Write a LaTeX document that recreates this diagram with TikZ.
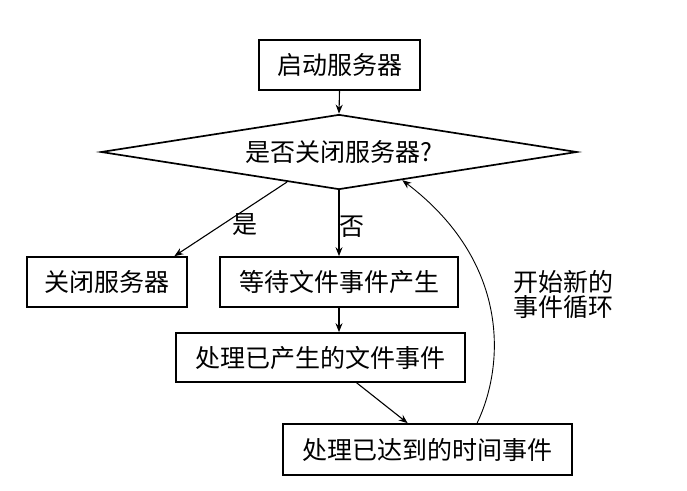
\documentclass[tikz,border=0pt]{standalone}
\usepackage{fontspec}
\newfontfamily\cjk{Noto Sans CJK SC}
\usetikzlibrary{shapes.geometric,arrows.meta}

\tikzset{
  stepbox/.style={draw, line width=1.7pt, rectangle, inner sep=0pt, minimum height=50pt},
  decision/.style={draw, line width=1.7pt, diamond, inner sep=0pt, shape aspect=6.35,
    minimum width=476pt, minimum height=75pt},
  flow/.style={-{Stealth[length=9pt,width=7pt]}, line width=1.1pt},
  lbl/.style={inner sep=0pt}
}

\begin{document}
\begin{tikzpicture}[x=1pt,y=-1pt,font=\cjk\fontsize{25}{25}\selectfont]
        % Fix the picture size
        \useasboundingbox (0,0) rectangle (687,490);

        % Draw the start box and the decision
        \node[stepbox, minimum width=161pt] (start) at (339.5,65) {启动服务器};
        \node[decision] (ask) at (339,152) {是否关闭服务器?};

        % Draw the boxes of the event loop
        \node[stepbox, minimum width=160pt] (close) at (107,282) {关闭服务器};
        \node[stepbox, minimum width=238pt] (wait) at (339,282) {等待文件事件产生};
        \node[stepbox, minimum width=289pt, minimum height=49pt] (file) at (320.5,357.5) {处理已产生的文件事件};
        \node[stepbox, minimum width=289pt, minimum height=51pt] (time) at (427.5,449.5) {处理已达到的时间事件};

        % Draw the arrows
        \draw[flow] (start.south) -- (ask.north);
        \draw[flow] (ask.210) -- (close.21.6);
        \draw[flow] (ask.south) -- (wait.north);
        \draw[flow] (wait.south) -- (wait.south |- file.north);
        \draw[flow] (file.-35.4) -- (time.127.4);

        % Draw the loop back to the decision
        \draw[flow, line width=0.9pt] (time.28.2) .. controls (505,365) and (510,262) .. (ask.-24);

        % Draw the labels
        \node[lbl] (yes) at (245,225) {是};
        \node[lbl] (no) at (352,227) {否};
        \node[lbl, align=left] (loop) at (563,295) {开始新的\\事件循环};

    \end{tikzpicture}
\end{document}
